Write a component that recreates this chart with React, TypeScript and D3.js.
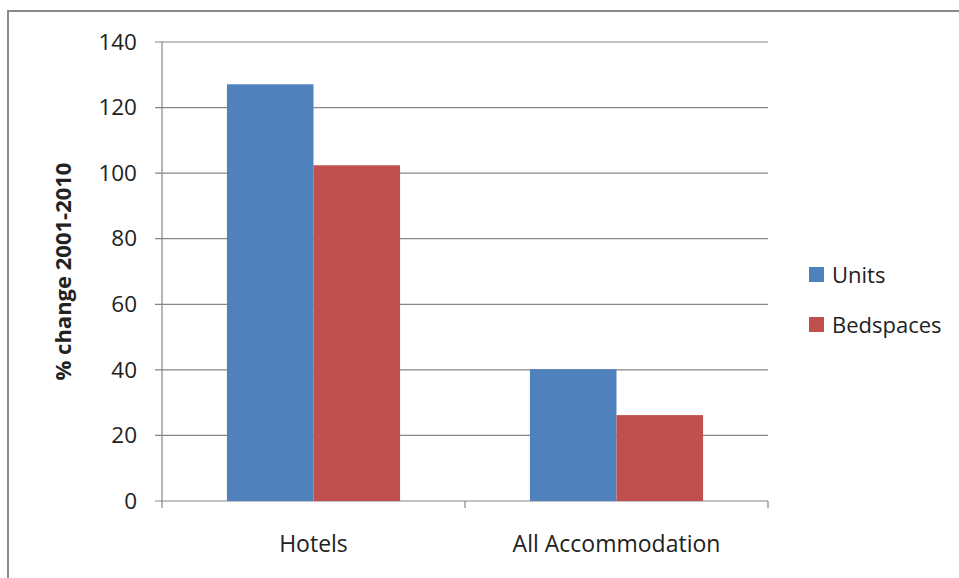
import React from "react";
import * as d3 from "d3";

const categories = ["Hotels", "All Accommodation"];
const seriesNames = ["Units", "Bedspaces"];
const unitsValues = [127.1, 40.2];
const bedspacesValues = [102.4, 26.2];
const yTicks = [0, 20, 40, 60, 80, 100, 120, 140];
const seriesColors = ["#4F81BD", "#C0504D"];

const W = 959;
const H = 578;
const FONT = "'Open Sans', sans-serif";

export default function App() {
  const x = d3.scaleBand<string>().domain(categories).range([162, 768]).paddingInner(0).paddingOuter(0);
  const xs = d3.scaleBand<string>().domain(seriesNames).range([0, x.bandwidth()]).paddingInner(0).paddingOuter(0.75);
  const y = d3.scaleLinear().domain([0, 140]).range([501, 42]);
  const values = [unitsValues, bedspacesValues];
  const grid = "#868686";
  const x0 = x.range()[0];
  const x1 = x.range()[1];

  return (
    <svg width={W} height={H} style={{ position: "absolute", left: 0, top: 0 }} fontFamily={FONT}>
      <rect x={0} y={0} width={W} height={H} fill="#fff" />
      <path d={`M8,${H} L8,11 L${W},11`} fill="none" stroke="#8a8a8a" strokeWidth={2} />
      {yTicks.map((t) => (
        <g key={t}>
          <line x1={x0 - 7} x2={x1} y1={y(t)} y2={y(t)} stroke={grid} strokeWidth={1.2} />
          <text x={137} y={y(t)} dy="0.34em" textAnchor="end" fontSize={22.5} fill="#222">{t}</text>
        </g>
      ))}
      <line x1={x0} x2={x0} y1={y(140)} y2={y(0)} stroke={grid} strokeWidth={1.2} />
      {[...categories.map((c) => x(c) as number), x1].map((px, i) => (
        <line key={i} x1={px} x2={px} y1={y(0)} y2={y(0) + 7} stroke={grid} strokeWidth={1.2} />
      ))}
      {categories.map((c, ci) =>
        seriesNames.map((s, si) => {
          const bx = (x(c) as number) + (xs(s) as number);
          const v = values[si][ci];
          return (
            <rect key={c + s} x={bx} y={y(v)} width={xs.bandwidth()} height={y(0) - y(v)} fill={seriesColors[si]} />
          );
        })
      )}
      {categories.map((c) => (
        <text key={c} x={(x(c) as number) + x.bandwidth() / 2} y={552} textAnchor="middle" fontSize={23} fill="#222">{c}</text>
      ))}
      <text transform={`translate(71,${(y(0) + y(140)) / 2}) rotate(-90)`} textAnchor="middle" fontSize={22} fontWeight="bold" fill="#222">% change 2001-2010</text>
      {seriesNames.map((s, i) => (
        <g key={s} transform={`translate(809,${267 + i * 50})`}>
          <rect x={0} y={0} width={15} height={15} fill={seriesColors[i]} />
          <text x={23} y={15.5} fontSize={22} fill="#222">{s}</text>
        </g>
      ))}
    </svg>
  );
}
